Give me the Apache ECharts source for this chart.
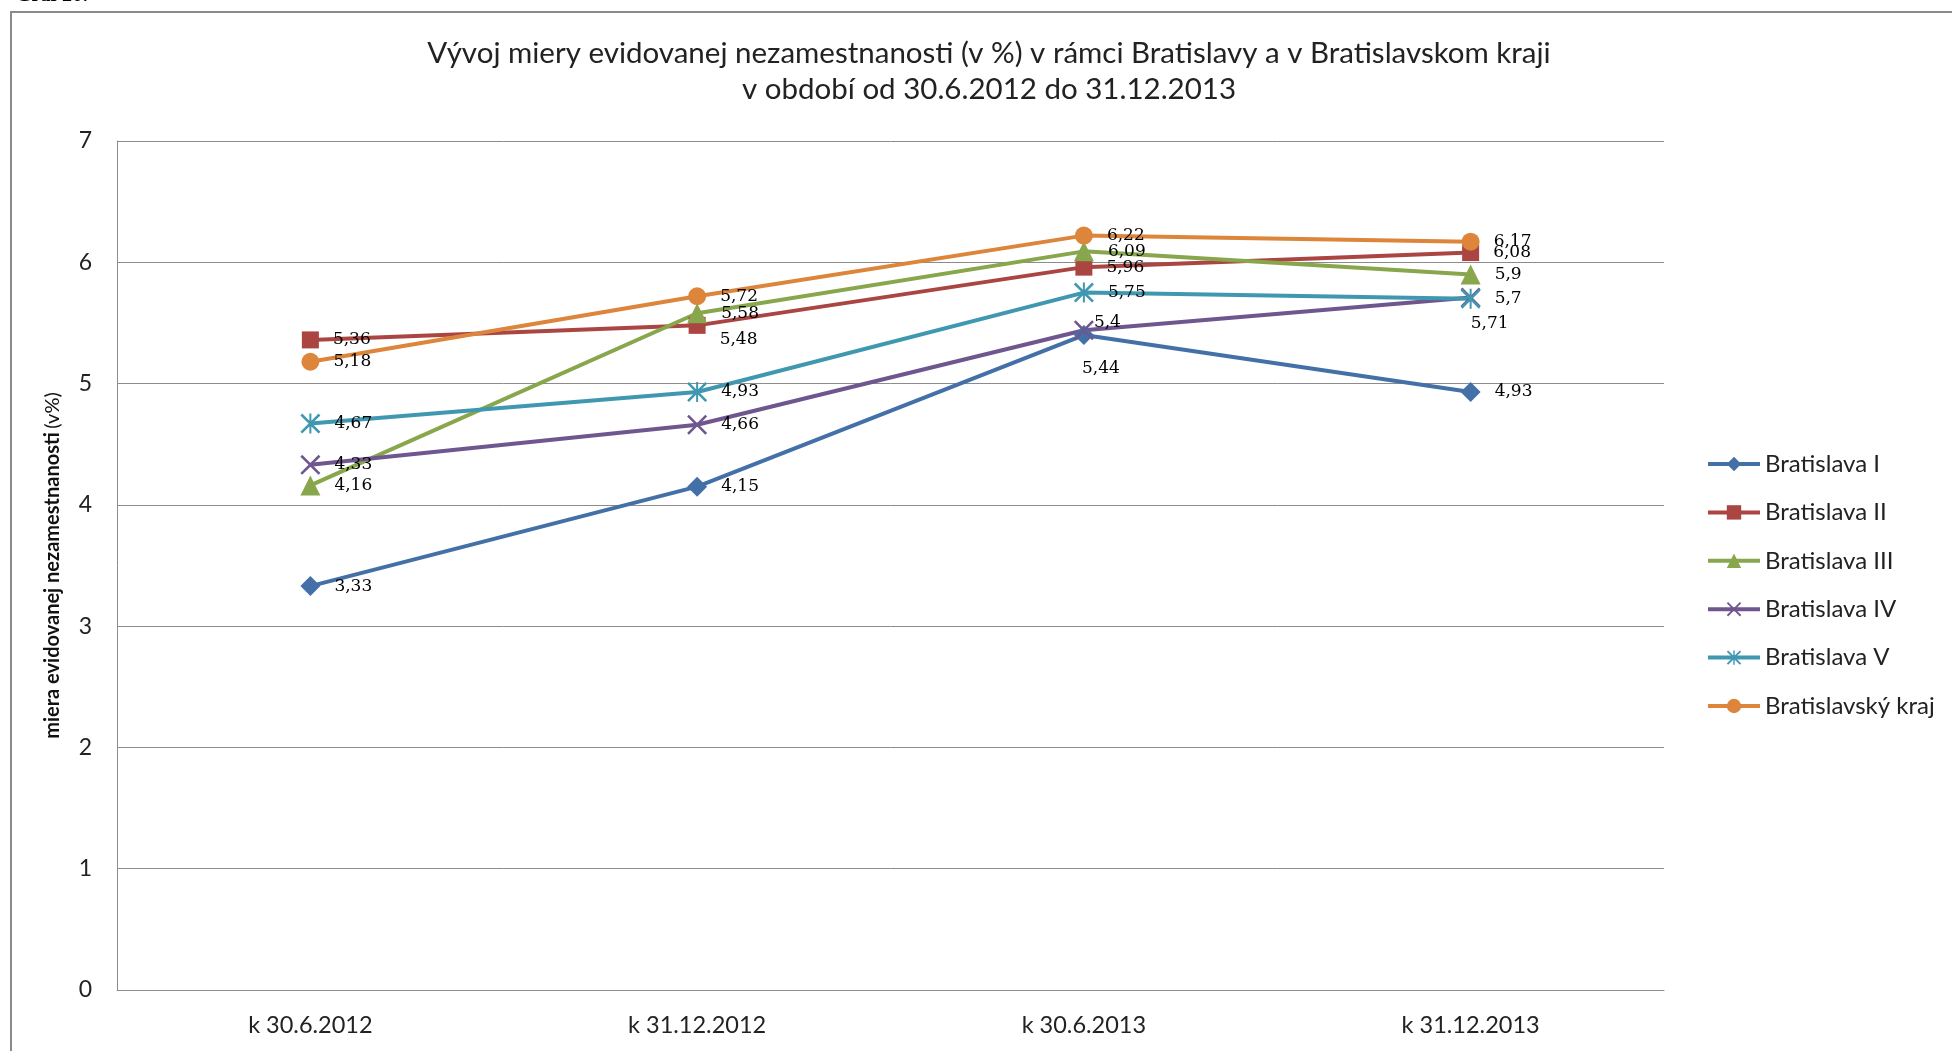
<!DOCTYPE html>
<html>
<head>
<meta charset="utf-8">
<title>Vývoj miery evidovanej nezamestnanosti</title>
<script src="https://cdn.jsdelivr.net/npm/echarts@6/dist/echarts.min.js"></script>
<style>
  html, body { margin: 0; padding: 0; background: #fff; }
  #chart { width: 1952px; height: 1051px; }
</style>
</head>
<body>
<div id="chart"></div>
<script>
const categories = ['k 30.6.2012', 'k 31.12.2012', 'k 30.6.2013', 'k 31.12.2013']
const yTicks = [0, 1, 2, 3, 4, 5, 6, 7]

const seriesNames = ['Bratislava I', 'Bratislava II', 'Bratislava III', 'Bratislava IV', 'Bratislava V', 'Bratislavský kraj']
const bratislavaI = [3.33, 4.15, 5.4, 4.93]
const bratislavaII = [5.36, 5.48, 5.96, 6.08]
const bratislavaIII = [4.16, 5.58, 6.09, 5.9]
const bratislavaIV = [4.33, 4.66, 5.44, 5.71]
const bratislavaV = [4.67, 4.93, 5.75, 5.7]
const bratislavskyKraj = [5.18, 5.72, 6.22, 6.17]
const seriesValues = [bratislavaI, bratislavaII, bratislavaIII, bratislavaIV, bratislavaV, bratislavskyKraj]

const colors = ['#4470a8', '#aa4542', '#88a64b', '#6f568f', '#3f98b0', '#dc853b']

// X and asterisk markers as filled outlines
const crossPath = 'path://M0,1.8L1.8,0L10,8.2L18.2,0L20,1.8L11.8,10L20,18.2L18.2,20L10,11.8L1.8,20L0,18.2L8.2,10Z'
const starPath = crossPath + 'M9,0L11,0L11,20L9,20Z'
const symbols = ['diamond', 'rect', 'triangle', crossPath, starPath, 'circle']
const symbolSizes = [20, 17, 20, 20, 20, 18]

// labels that sit off the default right-hand position
const labelTweaks = {
  'Bratislava I': { 2: { position: 'right', offset: [-14, -12] } },
  'Bratislava II': { 1: { position: 'right', offset: [0, 14] } },
  'Bratislava IV': {
    2: { position: 'bottom', distance: 20, offset: [17, 0] },
    3: { position: 'bottom', distance: 8, offset: [19, 0] },
  },
}

const fmt = (v) => String(v).replace('.', ',')

const chart = echarts.init(document.getElementById('chart'))

chart.setOption({
  animation: false,
  backgroundColor: '#fff',
  title: {
    text: 'Vývoj miery evidovanej nezamestnanosti (v %) v rámci Bratislavy a v Bratislavskom kraji\nv období od 30.6.2012 do 31.12.2013',
    left: 984,
    top: 30,
    textAlign: 'center',
    textStyle: { fontFamily: 'Lato', fontSize: 29.5, fontWeight: 'normal', color: '#222', lineHeight: 36 },
  },
  legend: {
    orient: 'vertical',
    left: 1706,
    top: 452,
    padding: 0,
    itemWidth: 52,
    itemHeight: 18,
    itemGap: 24.4,
    lineStyle: { width: 4 },
    textStyle: { fontFamily: 'Lato', fontSize: 24, color: '#222', lineHeight: 24 },
    data: seriesNames,
  },
  grid: { left: 117, right: 288, top: 141, bottom: 61 },
  xAxis: {
    type: 'category',
    data: categories,
    boundaryGap: true,
    axisLine: { lineStyle: { color: '#8c8c8c', width: 1 } },
    axisTick: { show: false },
    axisLabel: { fontFamily: 'Lato', fontSize: 23.5, color: '#222', margin: 23 },
  },
  yAxis: {
    type: 'value',
    min: yTicks[0],
    max: yTicks[yTicks.length - 1],
    interval: 1,
    name: '{b|miera evidovanej nezamestnanosti} {n|(v%)}',
    nameLocation: 'middle',
    nameRotate: 90,
    nameGap: 54,
    nameTextStyle: {
      rich: {
        b: { fontFamily: 'Lato', fontSize: 20, fontWeight: 'bold', color: '#111' },
        n: { fontFamily: 'Lato', fontSize: 20, color: '#111' },
      },
    },
    axisLine: { show: true, lineStyle: { color: '#8c8c8c', width: 1 } },
    axisTick: { show: false },
    axisLabel: { fontFamily: 'Lato', fontSize: 23, color: '#222', margin: 25 },
    splitLine: { lineStyle: { color: '#8c8c8c', width: 1 } },
  },
  graphic: [
    {
      type: 'rect',
      shape: { x: 11, y: 12, width: 2100, height: 1200 },
      style: { fill: 'none', stroke: '#8a8a8a', lineWidth: 2 },
      silent: true,
    },
    {
      type: 'text',
      left: 16,
      top: -14,
      style: { text: 'Graf 26:', font: 'bold 20px "Liberation Serif"', fill: '#000' },
      silent: true,
    },
  ],
  series: seriesNames.map((name, i) => ({
    name,
    type: 'line',
    symbol: symbols[i],
    symbolSize: symbolSizes[i],
    showAllSymbol: true,
    lineStyle: { color: colors[i], width: 4 },
    itemStyle: { color: colors[i], borderWidth: 0 },
    label: {
      show: true,
      position: 'right',
      distance: 14,
      fontFamily: 'DejaVu Serif',
      fontSize: 17,
      color: '#000',
      formatter: (p) => fmt(p.value),
    },
    data: seriesValues[i].map((v, j) => {
      const tweak = labelTweaks[name] && labelTweaks[name][j]
      return tweak ? { value: v, label: tweak } : v
    }),
  })),
})
</script>
</body>
</html>
